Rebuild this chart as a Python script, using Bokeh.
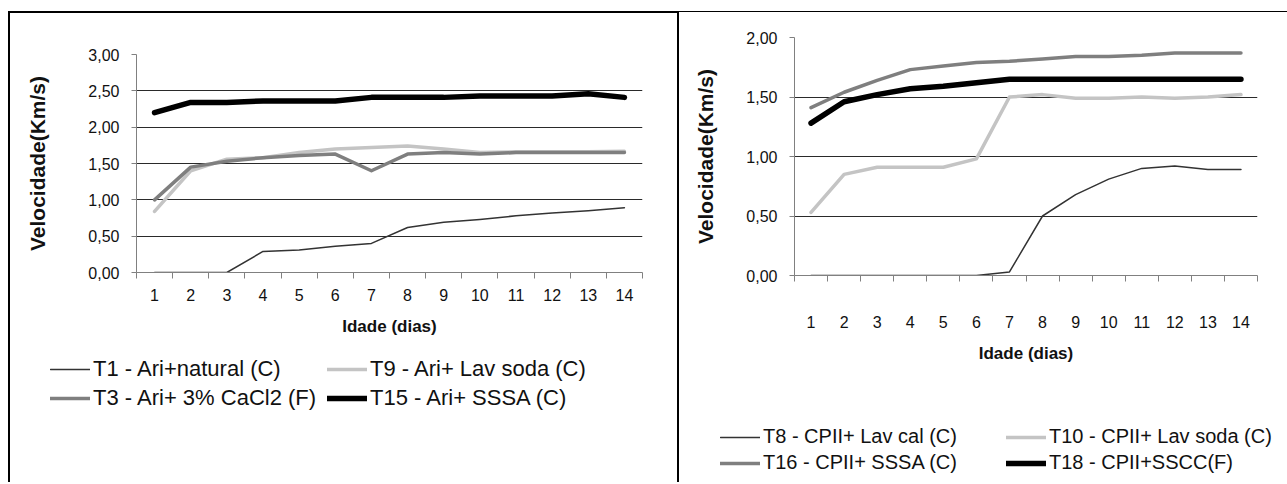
from bokeh.plotting import figure
from bokeh.models import FixedTicker, Legend, LegendItem, Range1d
from bokeh.layouts import row, column
from bokeh.embed import file_html
from bokeh.resources import INLINE

# ---------------- data ----------------
dias = list(range(1, 15))
dias_labels = [str(d) for d in dias]

# left chart (Ari)
t1_ari_natural = [0.00, 0.00, 0.00, 0.29, 0.31, 0.36, 0.40, 0.62, 0.69, 0.73, 0.78, 0.82, 0.85, 0.89]
t9_ari_lavsoda = [0.84, 1.40, 1.56, 1.58, 1.65, 1.70, 1.72, 1.74, 1.70, 1.65, 1.66, 1.66, 1.66, 1.67]
t3_ari_cacl2 = [1.00, 1.45, 1.53, 1.58, 1.61, 1.63, 1.40, 1.63, 1.65, 1.63, 1.65, 1.65, 1.65, 1.65]
t15_ari_sssa = [2.20, 2.34, 2.34, 2.36, 2.36, 2.36, 2.41, 2.41, 2.41, 2.43, 2.43, 2.43, 2.46, 2.41]
left_names = ["T1 - Ari+natural (C)", "T9 - Ari+ Lav soda (C)",
              "T3 - Ari+ 3% CaCl2 (F)", "T15 - Ari+ SSSA (C)"]
left_yticks = [0.0, 0.5, 1.0, 1.5, 2.0, 2.5, 3.0]
left_ylabels = ["0,00", "0,50", "1,00", "1,50", "2,00", "2,50", "3,00"]

# right chart (CPII)
t8_cpii_lavcal = [0.00, 0.00, 0.00, 0.00, 0.00, 0.00, 0.03, 0.50, 0.68, 0.81, 0.90, 0.92, 0.89, 0.89]
t10_cpii_lavsoda = [0.53, 0.85, 0.91, 0.91, 0.91, 0.98, 1.50, 1.52, 1.49, 1.49, 1.50, 1.49, 1.50, 1.52]
t16_cpii_sssa = [1.41, 1.54, 1.64, 1.73, 1.76, 1.79, 1.80, 1.82, 1.84, 1.84, 1.85, 1.87, 1.87, 1.87]
t18_cpii_sscc = [1.28, 1.46, 1.52, 1.57, 1.59, 1.62, 1.65, 1.65, 1.65, 1.65, 1.65, 1.65, 1.65, 1.65]
right_names = ["T8 - CPII+ Lav cal (C)", "T10 - CPII+ Lav soda (C)",
               "T16 - CPII+ SSSA (C)", "T18 - CPII+SSCC(F)"]
right_yticks = [0.0, 0.5, 1.0, 1.5, 2.0]
right_ylabels = ["0,00", "0,50", "1,00", "1,50", "2,00"]

x_title = "Idade (dias)"
y_title = "Velocidade(Km/s)"

# ---------------- styles ----------------
FONT = "Liberation Sans"
styles = [
    dict(color="#333333", width=1.5),   # thin dark
    dict(color="#c4c4c4", width=3.5),   # light gray
    dict(color="#7f7f7f", width=3.5),   # mid gray
    dict(color="#000000", width=5.5),   # thick black
]


def make_chart(series, yticks, ylabels, width, height, mb, label_standoff_x,
               ytitle_standoff, css):
    p = figure(width=width, height=height, output_backend="svg", toolbar_location=None,
               x_range=Range1d(0.5, 14.5), y_range=Range1d(yticks[0], yticks[-1]),
               min_border_left=mb[0], min_border_right=mb[1], min_border_top=mb[2],
               min_border_bottom=mb[3])
    p.frame_align = False
    p.outline_line_color = None
    p.background_fill_color = "white"
    p.border_fill_color = "white"
    p.styles = css

    for ys, st in zip(series, styles):
        p.line(dias, ys, line_color=st["color"], line_width=st["width"],
               line_join="round", line_cap="round")

    # x axis: labels at category centres, ticks at category boundaries
    xt = FixedTicker(ticks=dias, minor_ticks=[d - 0.5 for d in dias] + [14.5])
    p.xaxis.ticker = xt
    p.xaxis.major_label_overrides = {d: l for d, l in zip(dias, dias_labels)}
    p.xaxis.major_tick_line_color = None
    p.xaxis.major_tick_out = 6
    p.xaxis.major_tick_in = 0
    p.xaxis.minor_tick_line_color = "#808080"
    p.xaxis.minor_tick_out = 6
    p.xaxis.minor_tick_in = 0
    p.xaxis.axis_line_color = "#808080"
    p.xaxis.major_label_text_font = FONT
    p.xaxis.major_label_text_font_size = "16px"
    p.xaxis.major_label_text_color = "#111111"
    p.xaxis.major_label_standoff = label_standoff_x
    p.xaxis.axis_label = x_title
    p.xaxis.axis_label_text_font = FONT
    p.xaxis.axis_label_text_font_style = "bold"
    p.xaxis.axis_label_text_font_size = "17px"
    p.xaxis.axis_label_text_color = "#111111"
    p.xaxis.axis_label_standoff = 13

    yt = FixedTicker(ticks=yticks, minor_ticks=[])
    p.yaxis.ticker = yt
    p.yaxis.major_label_overrides = {t: l for t, l in zip(yticks, ylabels)}
    p.yaxis.major_tick_line_color = "#808080"
    p.yaxis.major_tick_out = 5
    p.yaxis.major_tick_in = 0
    p.yaxis.minor_tick_line_color = None
    p.yaxis.axis_line_color = "#808080"
    p.yaxis.major_label_text_font = FONT
    p.yaxis.major_label_text_font_size = "16px"
    p.yaxis.major_label_text_color = "#111111"
    p.yaxis.major_label_standoff = 12
    p.yaxis.axis_label = y_title
    p.yaxis.axis_label_text_font = FONT
    p.yaxis.axis_label_text_font_style = "bold"
    p.yaxis.axis_label_text_font_size = "21px"
    p.yaxis.axis_label_text_color = "#111111"
    p.yaxis.axis_label_standoff = ytitle_standoff

    p.xgrid.visible = False
    p.ygrid.ticker = FixedTicker(ticks=yticks[1:-1], minor_ticks=[])
    p.ygrid.grid_line_color = "#2a2a2a"
    p.ygrid.grid_line_width = 1
    return p


def make_legend_fig(names, series, width, height, legend_loc, label_width, legend_font, css):
    lf = figure(width=width, height=height, output_backend="svg", toolbar_location=None,
                x_range=Range1d(0, 1), y_range=Range1d(0, 1),
                x_axis_location=None, y_axis_location=None,
                min_border=0, min_border_left=0, min_border_right=0,
                min_border_top=0, min_border_bottom=0)
    lf.frame_align = False
    lf.outline_line_color = None
    lf.grid.visible = False
    lf.border_fill_color = "white"
    lf.styles = css
    items = []
    for n, ys, st in zip(names, series, styles):
        # single point: draws nothing in the frame, only feeds the legend swatch
        r = lf.line([dias[0]], [ys[0]], line_color=st["color"], line_width=st["width"],
                    line_join="round", line_cap="round")
        items.append(LegendItem(label=n, renderers=[r]))
    leg = Legend(items=items, location=legend_loc, orientation="horizontal", ncols=2,
                 glyph_width=40, glyph_height=20, label_standoff=3, spacing=3,
                 padding=0, margin=0, label_width=label_width,
                 label_text_font=FONT, label_text_font_size=legend_font,
                 label_text_color="#111111",
                 background_fill_alpha=0, border_line_color=None)
    lf.add_layout(leg, "center")
    return lf


left_series = [t1_ari_natural, t9_ari_lavsoda, t3_ari_cacl2, t15_ari_sssa]
right_series = [t8_cpii_lavcal, t10_cpii_lavsoda, t16_cpii_sssa, t18_cpii_sscc]

p1 = make_chart(left_series, left_yticks, left_ylabels,
                width=671, height=330, mb=(126, 39, 41, 71), label_standoff_x=10,
                ytitle_standoff=36,
                css={"border-top": "2px solid black", "border-left": "2px solid black",
                     "border-right": "2px solid black"})
p1.margin = (11, 0, 0, 8)
l1 = make_legend_fig(left_names, left_series, width=671, height=141, legend_loc=(40, 71),
                     label_width=231, legend_font="22px",
                     css={"border-left": "2px solid black", "border-right": "2px solid black"})
l1.margin = (0, 0, 0, 8)

p2 = make_chart(right_series, right_yticks, right_ylabels,
                width=608, height=362, mb=(115, 30, 25, 99), label_standoff_x=34,
                ytitle_standoff=26,
                css={"border-top": "1px solid black"})
p2.margin = (11, 0, 0, 0)
l2 = make_legend_fig(right_names, right_series, width=608, height=110, legend_loc=(41, 9),
                     label_width=240, legend_font="20px", css={})
l2.margin = (0, 0, 0, 0)

layout = row(column(p1, l1), column(p2, l2))
layout.margin = 0

open("out.html", "w").write(file_html(layout, INLINE))
